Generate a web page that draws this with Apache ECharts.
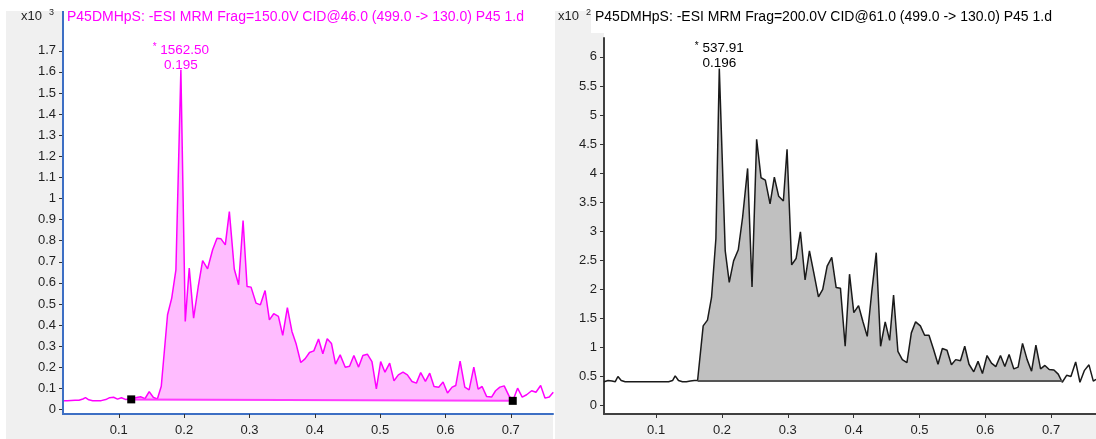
<!DOCTYPE html>
<html>
<head>
<meta charset="utf-8">
<script src="https://cdn.jsdelivr.net/npm/echarts@6/dist/echarts.min.js"></script>
<style>
  html, body { margin: 0; padding: 0; background: #ffffff; }
  #chart { width: 1096px; height: 439px; }
</style>
</head>
<body>
<div id="chart"></div>
<script>
// ---- chromatogram data (acquisition time in min, detector counts) ----
const leftTitle = 'P45DMHpS: -ESI MRM Frag=150.0V CID@46.0 (499.0 -> 130.0) P45 1.d';
const rightTitle = 'P45DMHpS: -ESI MRM Frag=200.0V CID@61.0 (499.0 -> 130.0) P45 1.d';

const xTickValues = [0.1, 0.2, 0.3, 0.4, 0.5, 0.6, 0.7];
const leftYTickValues = [0, 100, 200, 300, 400, 500, 600, 700, 800, 900, 1000, 1100, 1200, 1300, 1400, 1500, 1600, 1700];
const rightYTickValues = [0, 50, 100, 150, 200, 250, 300, 350, 400, 450, 500, 550, 600];

const leftTimes = [
  0.0146, 0.021, 0.027, 0.033, 0.039, 0.045, 0.049, 0.054, 0.060, 0.066,
  0.073, 0.080, 0.086, 0.092, 0.098, 0.104, 0.111, 0.117, 0.123, 0.129,
  0.134, 0.140, 0.1465, 0.153, 0.159, 0.165, 0.1746, 0.181, 0.1874,
  0.2017, 0.2078, 0.2145, 0.2216, 0.2283, 0.2359, 0.2436, 0.2503, 0.2564, 0.2630,
  0.2692, 0.2768, 0.2834, 0.2902, 0.2963, 0.3024, 0.3101, 0.3167, 0.3239, 0.3305,
  0.3371, 0.3443, 0.3509, 0.3580, 0.3650, 0.3715, 0.3785, 0.3850, 0.3919, 0.3985,
  0.4057, 0.4123, 0.4190, 0.4255, 0.4317, 0.4388, 0.4466, 0.4532, 0.4598, 0.4670,
  0.4736, 0.4804, 0.4875, 0.4942, 0.5008, 0.5074, 0.5146, 0.5212, 0.5279, 0.5350,
  0.5417, 0.5488, 0.5555, 0.5621, 0.5693, 0.5759, 0.5825, 0.5897, 0.5963, 0.6031,
  0.6102, 0.6158, 0.6224, 0.6296, 0.6362, 0.6434, 0.6500, 0.6561, 0.6629, 0.6706,
  0.6767, 0.6833, 0.6899, 0.6976, 0.7037, 0.7104, 0.7175, 0.7242, 0.7319, 0.7385,
  0.7457, 0.7523, 0.7589, 0.7650
];
const leftCounts = [
  42, 42, 43, 44, 44, 50, 56, 46, 42, 42,
  42, 47, 56, 58, 49, 56, 47, 51, 53, 58,
  60, 51, 85, 57, 50, 110, 449, 528, 662,
  417, 670, 433, 583, 706, 667, 757, 812, 809, 780,
  938, 665, 591, 896, 583, 580, 504, 496, 564, 425,
  454, 441, 351, 483, 370, 310, 223, 240, 270, 278,
  334, 264, 335, 313, 215, 259, 200, 205, 256, 201,
  256, 262, 227, 98, 227, 177, 220, 136, 164, 177,
  164, 133, 125, 175, 133, 172, 109, 106, 130, 78,
  106, 114, 229, 106, 93, 201, 97, 109, 62, 59,
  89, 106, 112, 62, 46, 101, 59, 70, 89, 82,
  114, 54, 59, 82
];
const leftPeakTime = 0.195;
const leftPeakHeight = 1562.50;
const leftBaselineTimes = [0.119, 0.703];
const leftBaselineCounts = [48, 41];

const rightTimes = [
  0.0209, 0.027, 0.033, 0.038, 0.042, 0.047, 0.053, 0.060, 0.066, 0.073,
  0.080, 0.086, 0.093, 0.099, 0.106, 0.112, 0.119, 0.125, 0.129, 0.134,
  0.140, 0.146, 0.152, 0.158, 0.163, 0.1715, 0.1780, 0.1842, 0.1908,
  0.2050, 0.2111, 0.2177, 0.2248, 0.2314, 0.2390, 0.2457, 0.2527, 0.2594, 0.2659,
  0.2731, 0.2796, 0.2862, 0.2933, 0.2989, 0.3059, 0.3126, 0.3192, 0.3263, 0.3329,
  0.3394, 0.3466, 0.3531, 0.3598, 0.3668, 0.3735, 0.3800, 0.3872, 0.3938, 0.4003,
  0.4075, 0.4140, 0.4207, 0.4277, 0.4344, 0.4410, 0.4480, 0.4547, 0.4607, 0.4673,
  0.4740, 0.4810, 0.4877, 0.4942, 0.5014, 0.5079, 0.5145, 0.5216, 0.5282, 0.5348,
  0.5419, 0.5486, 0.5551, 0.5623, 0.5688, 0.5753, 0.5825, 0.5890, 0.5957, 0.6027,
  0.6094, 0.6160, 0.6231, 0.6297, 0.6362, 0.6434, 0.6499, 0.6566, 0.6636, 0.6703,
  0.6769, 0.6840, 0.6906, 0.6971, 0.7043, 0.7108, 0.7169, 0.7236, 0.7301, 0.7373,
  0.7438, 0.7504, 0.7575, 0.7641, 0.7682
];
const rightCounts = [
  41, 43, 42, 41, 50, 43, 41, 41, 41, 41,
  41, 41, 41, 41, 41, 41, 41, 43, 51, 43,
  41, 41, 42, 43, 43, 137, 147, 186, 287,
  266, 212, 249, 268, 324, 408, 204, 458, 392, 388,
  347, 393, 360, 352, 441, 242, 253, 299, 216, 266,
  229, 187, 200, 240, 255, 203, 202, 102, 226, 160,
  172, 145, 119, 197, 263, 102, 144, 112, 190, 93,
  79, 74, 125, 144, 137, 121, 121, 96, 71, 98,
  95, 70, 79, 77, 102, 71, 58, 76, 55, 86,
  73, 67, 86, 67, 88, 63, 66, 107, 79, 59,
  104, 63, 69, 62, 61, 54, 40, 52, 50, 75,
  40, 60, 70, 42, 45
];
const rightPeakTime = 0.196;
const rightPeakHeight = 537.91;
const rightBaselineTimes = [0.163, 0.7169];
const rightBaselineCounts = [42, 42];

// ---- helpers ----
function baselineAt(times, counts, t) {
  const f = (t - times[0]) / (times[1] - times[0]);
  return counts[0] + f * (counts[1] - counts[0]);
}
// trace points, with the apex placed at baseline + labelled peak height
function buildTrace(times, counts, peakTime, peakHeight, bTimes, bCounts) {
  const pts = times.map((t, i) => [t, counts[i]]);
  pts.push([peakTime, baselineAt(bTimes, bCounts, peakTime) + peakHeight]);
  pts.sort((a, b) => a[0] - b[0]);
  return pts;
}
function windowOf(pts, bTimes) {
  return pts.filter(p => p[0] >= bTimes[0] - 1e-9 && p[0] <= bTimes[1] + 1e-9);
}

const leftTrace = buildTrace(leftTimes, leftCounts, leftPeakTime, leftPeakHeight, leftBaselineTimes, leftBaselineCounts);
const rightTrace = buildTrace(rightTimes, rightCounts, rightPeakTime, rightPeakHeight, rightBaselineTimes, rightBaselineCounts);
const leftApex = [leftPeakTime, baselineAt(leftBaselineTimes, leftBaselineCounts, leftPeakTime) + leftPeakHeight];
const rightApex = [rightPeakTime, baselineAt(rightBaselineTimes, rightBaselineCounts, rightPeakTime) + rightPeakHeight];

const FONT = "'Liberation Sans', Arial, sans-serif";
const TXT = '#1f1f1f';
const PANEL = '#f0f0f0';
const FRAME_BLUE = '#3d6fc4';
const PINK = '#ff00ff';
const PINK_FILL = '#ffbcff';
const PINK_BASE = '#ff3cff';
const GREY_FILL = '#c0c0c0';

const fmtX = v => String(Math.round(v * 10) / 10);

function xAxisDef(gridIndex, min, max, lineColor) {
  return {
    type: 'value', gridIndex, min, max,
    splitLine: { show: false },
    axisLine: { show: true, onZero: false, lineStyle: { color: lineColor, width: 2 } },
    axisTick: { show: true, customValues: xTickValues, length: 4, lineStyle: { color: '#333' } },
    axisLabel: { show: true, customValues: xTickValues, formatter: fmtX, margin: 10,
      color: TXT, fontFamily: FONT, fontSize: 13 }
  };
}
function yAxisDef(gridIndex, min, max, ticks, scale, lineColor) {
  return {
    type: 'value', gridIndex, min, max,
    splitLine: { show: false },
    axisLine: { show: true, onZero: false, lineStyle: { color: lineColor, width: 2 } },
    axisTick: { show: true, customValues: ticks, length: 4, lineStyle: { color: '#333' } },
    axisLabel: { show: true, customValues: ticks, margin: 7,
      formatter: v => String(Math.round(v / scale * 10) / 10),
      color: TXT, fontFamily: FONT, fontSize: 13 }
  };
}
// apex annotation: labelled height above baseline and retention time
function peakLabel(apex, height, time, color) {
  return {
    symbol: 'circle',
    symbolSize: 1,
    itemStyle: { color: 'rgba(0,0,0,0)' },
    silent: true,
    data: [{ coord: apex, value: height }],
    label: {
      show: true, position: 'top', distance: 0, offset: [0, 3],
      formatter: () => '{s|*}{v| ' + height.toFixed(2) + '}\n{v|' + time.toFixed(3) + '}',
      rich: {
        s: { fontSize: 10, color, fontFamily: FONT, verticalAlign: 'top', lineHeight: 15 },
        v: { fontSize: 13.5, color, fontFamily: FONT, lineHeight: 15 }
      }
    }
  };
}

const chart = echarts.init(document.getElementById('chart'), null, { renderer: 'canvas' });

const option = {
  animation: false,
  backgroundColor: '#ffffff',
  grid: [
    { left: 63, top: 38, width: 490, height: 376, containLabel: false },
    { left: 604, top: 38, width: 492, height: 376, containLabel: false }
  ],
  xAxis: [
    xAxisDef(0, 0.01457, 0.7646, FRAME_BLUE),
    xAxisDef(1, 0.02085, 0.76819, '#404040')
  ],
  yAxis: [
    yAxisDef(0, -21.3, 1760.7, leftYTickValues, 1000, FRAME_BLUE),
    yAxisDef(1, -14.6, 632.5, rightYTickValues, 100, '#404040')
  ],
  graphic: [
    // panel backgrounds
    { type: 'rect', z: -10, silent: true, shape: { x: 6, y: 11, width: 547, height: 428 }, style: { fill: PANEL } },
    { type: 'rect', z: -10, silent: true, shape: { x: 555, y: 11, width: 541, height: 428 }, style: { fill: PANEL } },
    { type: 'rect', z: -9, silent: true, shape: { x: 63, y: 11, width: 490, height: 403 }, style: { fill: '#ffffff' } },
    { type: 'rect', z: -9, silent: true, shape: { x: 591, y: 11, width: 505, height: 22 }, style: { fill: '#ffffff' } },
    { type: 'rect', z: -9, silent: true, shape: { x: 604, y: 11, width: 492, height: 403 }, style: { fill: '#ffffff' } },
    // blue selection frame on the left panel
    { type: 'line', z: 50, silent: true, shape: { x1: 63, y1: 11, x2: 63, y2: 415 }, style: { stroke: FRAME_BLUE, lineWidth: 2 } },
    // multiplier captions
    { type: 'text', z: 60, left: 21, top: 10, style: { text: 'x10', fill: TXT, font: '13px ' + FONT } },
    { type: 'text', z: 60, left: 49, top: 8, style: { text: '3', fill: TXT, font: '9px ' + FONT } },
    { type: 'text', z: 60, left: 558, top: 10, style: { text: 'x10', fill: TXT, font: '13px ' + FONT } },
    { type: 'text', z: 60, left: 586, top: 8, style: { text: '2', fill: TXT, font: '9px ' + FONT } },
    // trace titles
    { type: 'text', z: 60, left: 67, top: 10, style: { text: leftTitle, fill: PINK, font: '14px ' + FONT } },
    { type: 'text', z: 60, left: 595, top: 10, style: { text: rightTitle, fill: '#000000', font: '14px ' + FONT } }
  ],
  series: [
    // left: integrated area
    {
      type: 'line', xAxisIndex: 0, yAxisIndex: 0, data: windowOf(leftTrace, leftBaselineTimes),
      showSymbol: false, lineStyle: { width: 0 }, itemStyle: { color: PINK_FILL },
      areaStyle: { color: PINK_FILL, opacity: 1, origin: 44 }, z: 2, silent: true
    },
    // left: baseline with integration end markers
    {
      type: 'line', xAxisIndex: 0, yAxisIndex: 0,
      data: leftBaselineTimes.map((t, i) => [t, leftBaselineCounts[i]]),
      symbol: 'rect', symbolSize: 8, showSymbol: true,
      itemStyle: { color: '#000000' }, lineStyle: { color: PINK_BASE, width: 2 }, z: 4, silent: true
    },
    // left: trace
    {
      type: 'line', xAxisIndex: 0, yAxisIndex: 0, data: leftTrace,
      showSymbol: false, lineStyle: { color: PINK, width: 1.5 }, itemStyle: { color: PINK }, z: 3, silent: true,
      markPoint: peakLabel(leftApex, leftPeakHeight, leftPeakTime, PINK)
    },
    // right: integrated area
    {
      type: 'line', xAxisIndex: 1, yAxisIndex: 1, data: windowOf(rightTrace, rightBaselineTimes),
      showSymbol: false, lineStyle: { width: 0 }, itemStyle: { color: GREY_FILL },
      areaStyle: { color: GREY_FILL, opacity: 1, origin: 42 }, z: 2, silent: true
    },
    // right: baseline
    {
      type: 'line', xAxisIndex: 1, yAxisIndex: 1,
      data: rightBaselineTimes.map((t, i) => [t, rightBaselineCounts[i]]),
      showSymbol: false, lineStyle: { color: '#555555', width: 2 }, z: 4, silent: true
    },
    // right: trace
    {
      type: 'line', xAxisIndex: 1, yAxisIndex: 1, data: rightTrace,
      showSymbol: false, lineStyle: { color: '#1a1a1a', width: 1.5 }, itemStyle: { color: '#1a1a1a' }, z: 3, silent: true,
      markPoint: peakLabel(rightApex, rightPeakHeight, rightPeakTime, '#000000')
    }
  ]
};
chart.setOption(option);
</script>
</body>
</html>
